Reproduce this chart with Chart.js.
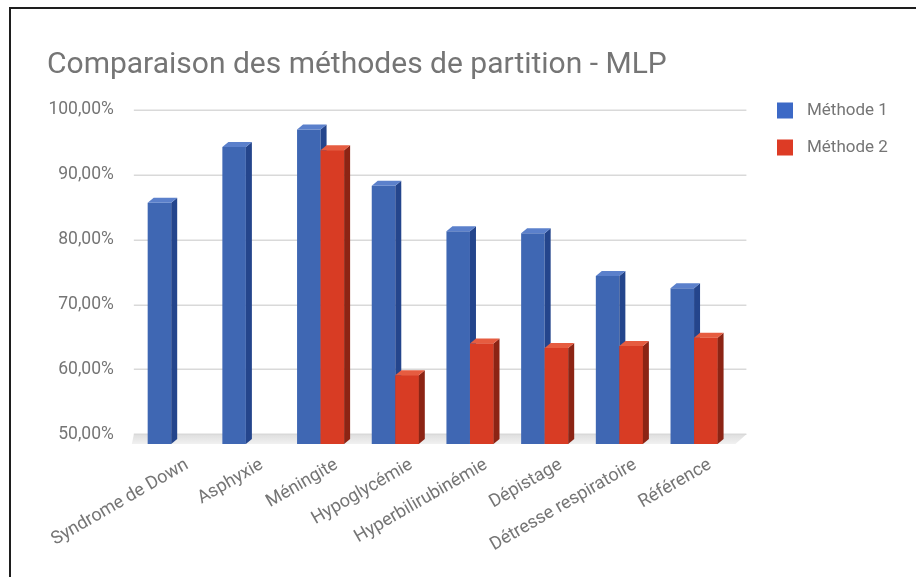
<!DOCTYPE html>
<html lang="fr">
<head>
<meta charset="utf-8">
<title>Comparaison des méthodes de partition - MLP</title>
<script src="https://cdn.jsdelivr.net/npm/chart.js@4.4.1/dist/chart.umd.min.js"></script>
<style>
  html, body { margin: 0; padding: 0; background: #fff; overflow: hidden; }
  #wrap { position: relative; width: 916px; height: 577px; }
  #frame {
    position: absolute; left: 9px; top: 7px; width: 920px; height: 580px;
    border-top: 2px solid #1e1e1e; border-left: 2px solid #1e1e1e;
    pointer-events: none;
  }
</style>
</head>
<body>
<div id="wrap">
  <canvas id="chart" width="916" height="577"></canvas>
  <div id="frame"></div>
</div>
<script>
// Data
const categories = [
  "Syndrome de Down", "Asphyxie", "Méningite", "Hypoglycémie",
  "Hyperbilirubinémie", "Dépistage", "Détresse respiratoire", "Référence",
];
const seriesNames = ["Méthode 1", "Méthode 2"];
const methode1 = [87.2, 95.8, 98.5, 89.8, 82.8, 82.5, 75.9, 74.0];
const methode2 = [null, null, 95.3, 60.6, 65.5, 64.8, 65.1, 66.4];
const yTicks = [50, 60, 70, 80, 90, 100];
const yTickLabels = ["50,00%", "60,00%", "70,00%", "80,00%", "90,00%", "100,00%"];

// Faces of the 3d bars: front, side, top
const faces = [
  { front: "#3f67b3", side: "#24458c", top: "#5b80cb", legend: "#3c69c6" },
  { front: "#d83c24", side: "#8c2414", top: "#e65c40", legend: "#dd3b25" },
];
const textColor = "#757575";
const depth = { dx: 6, dy: 5, floor: 9.7 };

// floor, extended gridlines, 3d faces and legend
const bars3d = {
  id: "bars3d",
  beforeDatasetsDraw(chart) {
    const { ctx, chartArea: a } = chart;
    const y = chart.scales.y;
    const yBase = y.getPixelForValue(y.min);
    ctx.save();
    // floor
    const grad = ctx.createLinearGradient(0, yBase, 0, yBase + depth.floor);
    grad.addColorStop(0, "#dedede");
    grad.addColorStop(1, "#f1f1f1");
    ctx.fillStyle = grad;
    ctx.beginPath();
    ctx.moveTo(a.left, yBase);
    ctx.lineTo(a.right + 15, yBase);
    ctx.lineTo(a.right + 4, yBase + depth.floor);
    ctx.lineTo(a.left - 2, yBase + depth.floor);
    ctx.closePath();
    ctx.fill();
    // gridlines
    ctx.strokeStyle = "#d9d9d9";
    ctx.lineWidth = 1.5;
    y.ticks.forEach((t) => {
      const py = Math.round(y.getPixelForValue(t.value)) + 0.25;
      ctx.beginPath();
      ctx.moveTo(a.left, py);
      ctx.lineTo(a.right + 15, py);
      ctx.stroke();
    });
    ctx.restore();
    // bars sit in front of the back wall
    ctx.save();
    ctx.translate(0, depth.floor);
  },
  afterDatasetsDraw(chart) {
    const { ctx, chartArea: a } = chart;
    const yBase = chart.scales.y.getPixelForValue(chart.scales.y.min);
    ctx.beginPath();
    ctx.rect(a.left - 10, a.top - 30, a.right - a.left + 40, yBase - a.top + 30);
    ctx.clip();
    // dataset 0 first, so the red front face covers the blue side face
    chart.data.datasets.forEach((ds, i) => {
      const meta = chart.getDatasetMeta(i);
      const f = faces[i];
      meta.data.forEach((bar, j) => {
        if (ds.data[j] == null) return;
        const { x, y, width } = bar.getProps(["x", "y", "width"], true);
        const base = yBase;
        const l = x - width / 2;
        const r = x + width / 2;
        if (i > 0) bar.draw(ctx);
        ctx.fillStyle = f.side;
        ctx.beginPath();
        ctx.moveTo(r, y);
        ctx.lineTo(r + depth.dx, y - depth.dy);
        ctx.lineTo(r + depth.dx, base - depth.dy);
        ctx.lineTo(r, base);
        ctx.closePath();
        ctx.fill();
        ctx.fillStyle = f.top;
        ctx.beginPath();
        ctx.moveTo(l, y);
        ctx.lineTo(r, y);
        ctx.lineTo(r + depth.dx, y - depth.dy);
        ctx.lineTo(l + depth.dx, y - depth.dy);
        ctx.closePath();
        ctx.fill();
      });
    });
    ctx.restore();
  },
  afterDraw(chart) {
    const ctx = chart.ctx;
    ctx.save();
    ctx.font = "17px Roboto";
    ctx.textBaseline = "middle";
    chart.data.datasets.forEach((ds, i) => {
      const cy = 110.5 + i * 37;
      ctx.fillStyle = faces[i].legend;
      ctx.fillRect(777, cy - 8, 16, 16);
      ctx.fillStyle = textColor;
      ctx.fillText(ds.label, 807, cy);
    });
    ctx.restore();
  },
};

new Chart(document.getElementById("chart"), {
  type: "bar",
  data: {
    labels: categories,
    datasets: [
      { label: seriesNames[0], data: methode1, backgroundColor: faces[0].front },
      { label: seriesNames[1], data: methode2, backgroundColor: faces[1].front },
    ],
  },
  options: {
    responsive: false,
    animation: false,
    events: [],
    categoryPercentage: 0.63,
    barPercentage: 1,
    layout: { padding: { left: 47, top: 0, right: 184.6, bottom: 0 } },
    plugins: {
      legend: { display: false },
      tooltip: { enabled: false },
      title: {
        display: true,
        text: "Comparaison des méthodes de partition - MLP",
        align: "start",
        color: textColor,
        font: { family: "Roboto", size: 30, weight: "normal", lineHeight: 1.2 },
        padding: { top: 47, bottom: 27 },
      },
    },
    scales: {
      x: {
        grid: { display: false },
        border: { display: false },
        ticks: {
          color: textColor,
          font: { family: "Roboto", size: 18 },
          minRotation: 30,
          maxRotation: 30,
          padding: 12,
          labelOffset: 16,
          autoSkip: false,
        },
        afterFit: (scale) => { scale.height = 142.7; },
      },
      y: {
        min: 50,
        max: 100,
        grid: { display: false, drawTicks: false },
        border: { display: false },
        afterBuildTicks: (scale) => { scale.ticks = yTicks.map((v) => ({ value: v })); },
        ticks: {
          color: textColor,
          font: { family: "Roboto", size: 17.5 },
          padding: 20,
          callback: (v) => yTickLabels[yTicks.indexOf(v)],
        },
        afterFit: (scale) => { scale.width = 86.85; },
      },
    },
  },
  plugins: [bars3d],
});
</script>
</body>
</html>
